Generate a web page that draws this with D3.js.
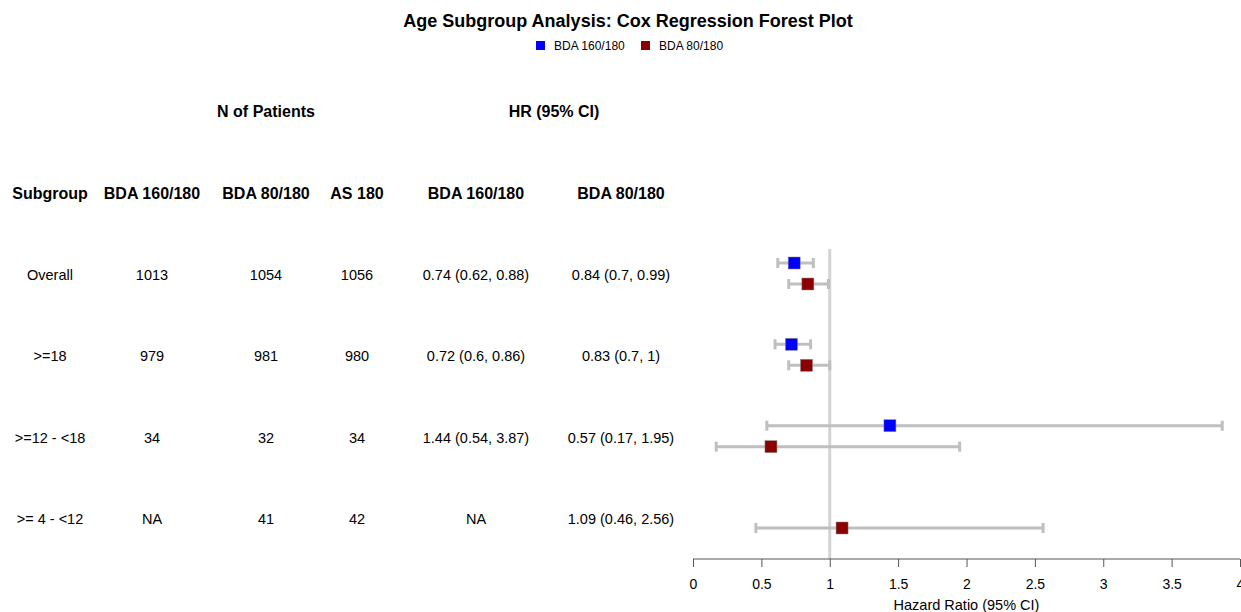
<html>
<head>
    <script src="https://d3js.org/d3.v7.min.js"></script>
</head>
<style>
    body { margin: 0; background: white; }
    svg { font-family: "Liberation Sans", Arial, sans-serif; }
    .hdr { font-weight: bold; font-size: 16px; }
    .cell { font-size: 14.5px; }
</style>
<body>
    <svg id="forest" width="1241" height="612"></svg>
    <script>
        // data
        const subgroups = ["Overall", ">=18", ">=12 - <18", ">= 4 - <12"];
        const nBDA160 = ["1013", "979", "34", "NA"];
        const nBDA80 = ["1054", "981", "32", "41"];
        const nAS180 = ["1056", "980", "34", "42"];
        const hr160 = [0.74, 0.72, 1.44, null];
        const lo160 = [0.62, 0.6, 0.54, null];
        const hi160 = [0.88, 0.86, 3.87, null];
        const hr80 = [0.84, 0.83, 0.57, 1.09];
        const lo80 = [0.7, 0.7, 0.17, 0.46];
        const hi80 = [0.99, 1, 1.95, 2.56];
        const hrText160 = ["0.74 (0.62, 0.88)", "0.72 (0.6, 0.86)", "1.44 (0.54, 3.87)", "NA"];
        const hrText80 = ["0.84 (0.7, 0.99)", "0.83 (0.7, 1)", "0.57 (0.17, 1.95)", "1.09 (0.46, 2.56)"];
        const series = ["BDA 160/180", "BDA 80/180"];
        const colors = ["#0000ff", "#8b0000"];
        const xTicks = [0, 0.5, 1, 1.5, 2, 2.5, 3, 3.5, 4];

        const svg = d3.select("svg#forest");

        // title + legend
        svg.append("text").attr("x", 628).attr("y", 27).attr("text-anchor", "middle")
           .style("font-weight", "bold").style("font-size", "18px")
           .text("Age Subgroup Analysis: Cox Regression Forest Plot");

        const leg = svg.append("g").attr("transform", "translate(536,46)");
        const legX = [0, 105];
        series.forEach((s, i) => {
            leg.append("rect").attr("x", legX[i]).attr("y", -5).attr("width", 9).attr("height", 9)
               .attr("fill", colors[i]);
            leg.append("text").attr("x", legX[i] + 18).attr("y", 4).style("font-size", "12px").text(s);
        });

        // table
        const rowY = d3.scalePoint().domain(subgroups).range([275, 519]);
        const colX = [50, 152, 266, 357, 476, 621];
        const headers = ["Subgroup", "BDA 160/180", "BDA 80/180", "AS 180", "BDA 160/180", "BDA 80/180"];
        const columns = [subgroups, nBDA160, nBDA80, nAS180, hrText160, hrText80];

        svg.append("text").attr("class", "hdr").attr("x", 266).attr("y", 117)
           .attr("text-anchor", "middle").text("N of Patients");
        svg.append("text").attr("class", "hdr").attr("x", 554).attr("y", 117)
           .attr("text-anchor", "middle").text("HR (95% CI)");

        headers.forEach((h, i) => {
            svg.append("text").attr("class", "hdr").attr("x", colX[i]).attr("y", 199)
               .attr("text-anchor", "middle").text(h);
            svg.selectAll(null).data(columns[i]).join("text")
               .attr("class", "cell")
               .attr("x", colX[i])
               .attr("y", (d, j) => rowY(subgroups[j]) + 5)
               .attr("text-anchor", "middle")
               .text(d => d);
        });

        // forest plot
        const x = d3.scaleLinear().domain([0, 4]).range([693, 1240]);
        const axisY = 559;

        svg.append("line").attr("x1", x(1)).attr("x2", x(1)).attr("y1", 249).attr("y2", axisY)
           .attr("stroke", "#d3d3d3").attr("stroke-width", 3);

        const axis = svg.append("g").attr("transform", "translate(0," + axisY + ")")
           .call(d3.axisBottom(x).tickValues(xTicks).tickFormat(d3.format("")).tickSize(8).tickPadding(12));
        axis.selectAll("line, path").attr("stroke", "#555");
        axis.select(".domain").attr("d", "M" + x(0) + ",0H" + x(4));
        axis.selectAll("text").style("font-size", "14px").style("font-family", "Liberation Sans, Arial, sans-serif")
           .attr("fill", "#000");

        svg.append("text").attr("x", x(2)).attr("y", 610).attr("text-anchor", "middle")
           .style("font-size", "14.5px").text("Hazard Ratio (95% CI)");

        const pts = [];
        subgroups.forEach((g, i) => {
            if (hr160[i] !== null) pts.push({ y: rowY(g) - 12, hr: hr160[i], lo: lo160[i], hi: hi160[i], c: colors[0] });
            pts.push({ y: rowY(g) + 9, hr: hr80[i], lo: lo80[i], hi: hi80[i], c: colors[1] });
        });

        const ci = svg.append("g").attr("stroke", "#bfbfbf").attr("stroke-width", 3);
        pts.forEach(p => {
            ci.append("line").attr("x1", x(p.lo)).attr("x2", x(p.hi)).attr("y1", p.y).attr("y2", p.y);
            ci.append("line").attr("x1", x(p.lo)).attr("x2", x(p.lo)).attr("y1", p.y - 5).attr("y2", p.y + 5);
            ci.append("line").attr("x1", x(p.hi)).attr("x2", x(p.hi)).attr("y1", p.y - 5).attr("y2", p.y + 5);
        });

        svg.selectAll("rect.pt").data(pts).join("rect")
           .attr("class", "pt")
           .attr("x", d => x(d.hr) - 6).attr("y", d => d.y - 6)
           .attr("width", 12).attr("height", 12)
           .attr("fill", d => d.c).attr("stroke", "#888").attr("stroke-width", 0.5);
    </script>
</body>
</html>
